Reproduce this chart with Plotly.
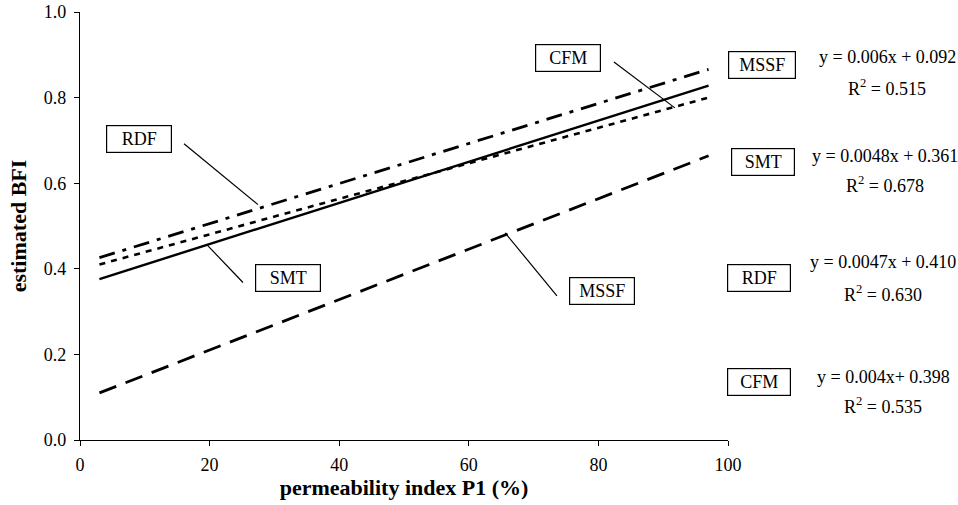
import plotly.graph_objects as go

# Data (fitted lines: endpoints)
x_range = [3, 97]
mssf_y = [0.110, 0.664]
smt_y = [0.376, 0.828]
rdf_y = [0.426, 0.866]
cfm_y = [0.410, 0.800]

series = ["MSSF", "SMT", "RDF", "CFM"]
equations = ["y = 0.006x + 0.092", "y = 0.0048x + 0.361", "y = 0.0047x + 0.410", "y = 0.004x+ 0.398"]
r2_values = ["0.515", "0.678", "0.630", "0.535"]

x_ticks = [0, 20, 40, 60, 80, 100]
y_ticks = [0.0, 0.2, 0.4, 0.6, 0.8, 1.0]

FONT = "Liberation Serif, Times New Roman, serif"

fig = go.Figure()
styles = {
    "MSSF": dict(dash="18px,10px", width=2.8),
    "SMT": dict(dash="solid", width=2.4),
    "RDF": dict(dash="16px,8px,4px,8px", width=2.8),
    "CFM": dict(dash="6px,6px", width=2.6),
}
for name, ys in zip(series, [mssf_y, smt_y, rdf_y, cfm_y]):
    fig.add_trace(go.Scatter(x=x_range, y=ys, mode="lines", name=name,
                             line=dict(color="black", **styles[name]), showlegend=False))

ann = []
shapes = []


def box(text, x, y, xref="x", yref="y", w=60, h=22):
    return dict(text=text, x=x, y=y, xref=xref, yref=yref, showarrow=False,
                font=dict(family=FONT, size=18, color="black"),
                bordercolor="black", borderwidth=1.2, borderpad=2,
                bgcolor="white", width=w, height=h, xanchor="center", yanchor="middle")


# callout boxes inside plot (data coords)
ann.append(box("RDF", 9.1, 0.704))
ann.append(box("SMT", 32.1, 0.379))
ann.append(box("MSSF", 80.6, 0.347))
ann.append(box("CFM", 75.3, 0.893))

# callout lines
for (x0, y0, x1, y1) in [(16.05, 0.692, 27.47, 0.550),
                         (25.15, 0.368, 19.6, 0.456),
                         (73.6, 0.337, 65.6, 0.484),
                         (82.4, 0.883, 91.8, 0.776)]:
    shapes.append(dict(type="line", xref="x", yref="y", x0=x0, y0=y0, x1=x1, y1=y1,
                       line=dict(color="black", width=1.2)))


# right-side legend with equations (pixel positions -> paper)
def px(p):
    return (p - 80) / 648


def py(p):
    return (440 - p) / 428


legend_rows = [(762, 65, 887, 57, 87), (763, 162, 885, 156, 185),
               (759, 278, 883, 262, 293), (759, 382, 883, 377, 405)]
for name, eq, r2, (bx, by, ex, ey, ry) in zip(series, equations, r2_values, legend_rows):
    ann.append(box(name, px(bx), py(by), xref="paper", yref="paper", w=62 if name == "MSSF" else 58))
    ann.append(dict(text=eq, x=px(ex), y=py(ey), xref="paper", yref="paper", showarrow=False,
                    font=dict(family=FONT, size=18, color="black"), xanchor="center", yanchor="middle"))
    ann.append(dict(text="R<sup>2</sup> = " + r2, x=px(ex), y=py(ry), xref="paper", yref="paper",
                    showarrow=False, font=dict(family=FONT, size=18, color="black"),
                    xanchor="center", yanchor="middle"))

fig.update_layout(
    width=958, height=505,
    margin=dict(l=80, r=230, t=12, b=65),
    paper_bgcolor="white", plot_bgcolor="white",
    font=dict(family=FONT, size=18, color="black"),
    annotations=ann, shapes=shapes,
    xaxis=dict(range=[0, 100], tickvals=x_ticks, showgrid=False, zeroline=False,
               showline=True, linecolor="black", linewidth=1.3, ticks="outside",
               ticklen=5, tickcolor="black", automargin=False, ticklabelstandoff=3,
               title=dict(text="<b>permeability index P1 (%)</b>", standoff=4,
                          font=dict(family=FONT, size=22))),
    yaxis=dict(range=[0, 1.0], tickvals=y_ticks, tickformat=".1f", showgrid=False, zeroline=False,
               showline=True, linecolor="black", linewidth=1.3, ticks="outside",
               ticklen=5, tickcolor="black", automargin=False, ticklabelstandoff=4,
               title=dict(text="<b>estimated BFI</b>", standoff=11,
                          font=dict(family=FONT, size=22))),
)

fig.write_html("out.html", config={"displayModeBar": False},
               post_script="document.body.style.margin='0';document.body.style.overflow='hidden';"
                           "document.documentElement.style.overflow='hidden';")
